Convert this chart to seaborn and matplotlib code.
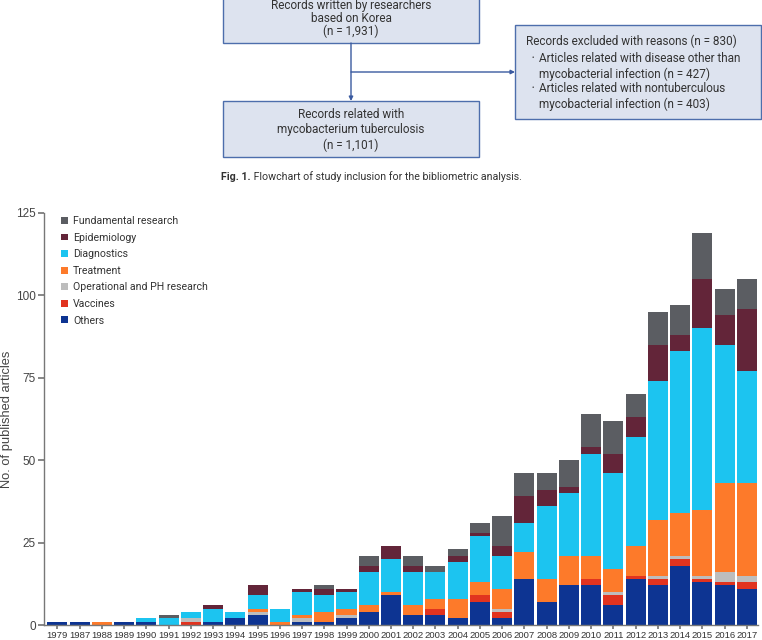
import matplotlib
matplotlib.use("Agg")
import matplotlib.pyplot as plt
from matplotlib import font_manager
from matplotlib.patches import Patch, Rectangle
import seaborn as sns
import pandas as pd

# data
years = ['1979', '1987', '1988', '1989', '1990', '1991', '1992', '1993', '1994', '1995',
         '1996', '1997', '1998', '1999', '2000', '2001', '2002', '2003', '2004', '2005',
         '2006', '2007', '2008', '2009', '2010', '2011', '2012', '2013', '2014', '2015',
         '2016', '2017']
others = [1, 1, 0, 1, 1, 0, 0, 1, 2, 3, 0, 1, 1, 2, 4, 9, 3, 3, 2, 7,
          2, 14, 7, 12, 12, 6, 14, 12, 18, 13, 12, 11]
vaccines = [0, 0, 0, 0, 0, 0, 1, 0, 0, 0, 0, 0, 0, 0, 0, 0, 0, 2, 0, 2,
            2, 0, 0, 0, 2, 3, 1, 2, 2, 1, 1, 2]
operational = [0, 0, 0, 0, 0, 0, 1, 0, 0, 1, 0, 1, 0, 1, 0, 0, 0, 0, 0, 0,
               1, 0, 0, 0, 0, 1, 0, 1, 1, 1, 3, 2]
treatment = [0, 0, 1, 0, 0, 0, 0, 0, 0, 1, 1, 1, 3, 2, 2, 1, 3, 3, 6, 4,
             6, 8, 7, 9, 7, 7, 9, 17, 13, 20, 27, 28]
diagnostics = [0, 0, 0, 0, 1, 2, 2, 4, 2, 4, 4, 7, 5, 5, 10, 10, 10, 8, 11, 14,
               10, 9, 22, 19, 31, 29, 33, 42, 49, 55, 42, 34]
epidemiology = [0, 0, 0, 0, 0, 0, 0, 1, 0, 3, 0, 1, 2, 1, 2, 4, 2, 0, 2, 1,
                3, 8, 5, 2, 2, 6, 6, 11, 5, 15, 9, 19]
fundamental = [0, 0, 0, 0, 0, 1, 0, 0, 0, 0, 0, 0, 1, 0, 3, 0, 3, 2, 2, 3,
               9, 7, 5, 8, 10, 10, 7, 10, 9, 14, 8, 9]

categories = ['Fundamental research', 'Epidemiology', 'Diagnostics', 'Treatment',
              'Operational and PH research', 'Vaccines', 'Others']
colors = ['#5b5d62', '#632539', '#1cc4f0', '#fd7a2a', '#bdbdbd', '#e1331f', '#0d3492']

df = pd.DataFrame({'Year': years,
                   'Fundamental research': fundamental,
                   'Epidemiology': epidemiology,
                   'Diagnostics': diagnostics,
                   'Treatment': treatment,
                   'Operational and PH research': operational,
                   'Vaccines': vaccines,
                   'Others': others})
long = df.melt(id_vars='Year', var_name='Category', value_name='Articles')

sns.set_theme(style="ticks")
plt.rcParams['font.family'] = ['Liberation Sans', 'DejaVu Sans']

installed = {f.name for f in font_manager.fontManager.ttflist}
if 'Liberation Sans Narrow' in installed:
    year_font, year_size = 'Liberation Sans Narrow', 7.4
else:
    year_font, year_size = 'Liberation Sans', 6.8

W, H = 762, 640
fig = plt.figure(figsize=(W / 100, H / 100), dpi=100)

# flowchart on top, drawn in pixel coordinates
fc = fig.add_axes([0, 0, 1, 1])
fc.set_xlim(0, W)
fc.set_ylim(H, 0)
fc.axis('off')

box_face = '#dde3ef'
box_edge = '#4d6eac'
line_col = '#3a5aa0'
txt_col = '#333333'
ffont = ['Roboto', 'DejaVu Sans']
fs = 8.5

fc.add_patch(Rectangle((223, -14), 256, 57, facecolor=box_face, edgecolor=box_edge, lw=1))
fc.add_patch(Rectangle((223, 101), 256, 56, facecolor=box_face, edgecolor=box_edge, lw=1))
fc.add_patch(Rectangle((515, 25), 246, 94, facecolor=box_face, edgecolor=box_edge, lw=1))

for y, s in [(5, 'Records written by researchers'), (18, 'based on Korea'), (31, '(n = 1,931)')]:
    fc.text(351, y, s, ha='center', va='center', fontsize=fs, color=txt_col, family=ffont)
for y, s in [(115, 'Records related with'), (130, 'mycobacterium tuberculosis'), (145, '(n = 1,101)')]:
    fc.text(351, y, s, ha='center', va='center', fontsize=fs, color=txt_col, family=ffont)

fc.text(526, 41, 'Records excluded with reasons (n = 830)', ha='left', va='center',
        fontsize=fs, color=txt_col, family=ffont)
for y, s in [(59, 'Articles related with disease other than'),
             (89, 'Articles related with nontuberculous')]:
    fc.text(532, y, '\u2022', ha='left', va='center', fontsize=5, color=txt_col, family=ffont)
    fc.text(539, y, s, ha='left', va='center', fontsize=fs, color=txt_col, family=ffont)
for y, s in [(74, 'mycobacterial infection (n = 427)'), (104, 'mycobacterial infection (n = 403)')]:
    fc.text(539, y, s, ha='left', va='center', fontsize=fs, color=txt_col, family=ffont)

fc.annotate('', xy=(351, 101), xytext=(351, 43),
            arrowprops=dict(arrowstyle='-|>', color=line_col, lw=1, mutation_scale=6,
                            shrinkA=0, shrinkB=0))
fc.annotate('', xy=(515, 72), xytext=(351, 72),
            arrowprops=dict(arrowstyle='-|>', color=line_col, lw=1, mutation_scale=6,
                            shrinkA=0, shrinkB=0))

cap = fc.text(221, 177, 'Fig. 1.', ha='left', va='center', fontsize=7.7,
              fontweight='bold', color=txt_col, family=ffont)
fc.annotate(' Flowchart of study inclusion for the bibliometric analysis.', xy=(1, 0.5),
            xycoords=cap, ha='left', va='center', fontsize=7.7, color=txt_col, family=ffont)

# stacked bar chart
ax = fig.add_axes([44 / W, 15 / H, 714 / W, 412 / H])
sns.histplot(data=long, x='Year', hue='Category', weights='Articles', multiple='stack',
             discrete=True, shrink=0.9, hue_order=categories,
             palette=dict(zip(categories, colors)), alpha=1, linewidth=0,
             legend=False, ax=ax)

ax.set_xlim(-0.6, 31.5)
ax.set_ylim(0, 125)
ax.set_yticks([0, 25, 50, 75, 100, 125])
ax.set_xlabel('')
ax.set_ylabel('No. of published articles', fontsize=9.3, color='#444444')
ax.yaxis.set_label_coords(-31 / 714, 0.5)
sns.despine(ax=ax)
for sp in ['left', 'bottom']:
    ax.spines[sp].set_color('#777777')
    ax.spines[sp].set_linewidth(1)
ax.tick_params(axis='y', labelsize=8.5, colors='#777777', labelcolor='#444444', length=4, pad=2)
ax.tick_params(axis='x', colors='#777777', labelcolor='#333333', length=3, pad=1)
for lab in ax.get_xticklabels():
    lab.set_fontfamily(year_font)
    lab.set_fontsize(year_size)

handles = [Patch(facecolor=c, edgecolor='none') for c in colors]
ax.legend(handles, categories, loc='upper left', bbox_to_anchor=(56 / W, 1 - 211 / H),
          bbox_transform=fig.transFigure, frameon=False, borderpad=0,
          handlelength=0.6, handleheight=0.6, handletextpad=0.5, labelspacing=0.62,
          prop={'family': ffont, 'size': 7.6}, labelcolor='#333333')

fig.savefig('out.png', dpi=100)
